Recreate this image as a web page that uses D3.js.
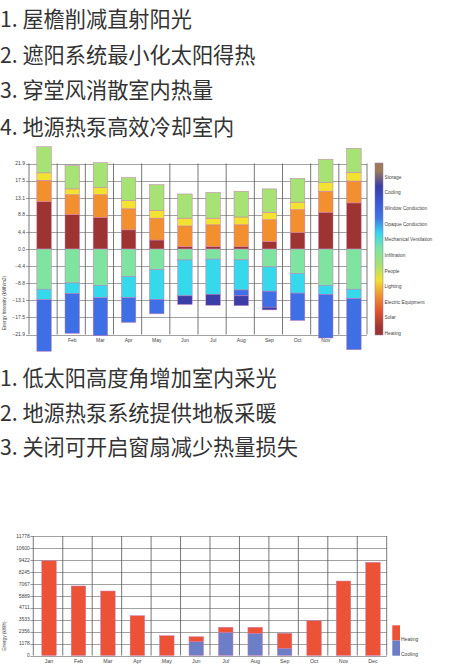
<!DOCTYPE html>
<html><head><meta charset="utf-8">
<script src="https://cdn.jsdelivr.net/npm/d3@7"></script>
<style>
html,body{margin:0;padding:0;background:#fff;}
svg{display:block;}
</style></head>
<body>
<svg id="c" width="461" height="664"></svg>
<script>
// ---------- data ----------
const linesTop = ["1. 屋檐削减直射阳光","2. 遮阳系统最小化太阳得热","3. 穿堂风消散室内热量","4. 地源热泵高效冷却室内"];
const linesMid = ["1. 低太阳高度角增加室内采光","2. 地源热泵系统提供地板采暖","3. 关闭可开启窗扇减少热量损失"];

const months = ["Jan","Feb","Mar","Apr","May","Jun","Jul","Aug","Sep","Oct","Nov","Dec"];
// chart 1: energy intensity (kWh/m2)
const heating   = [12.1, 8.8, 8.1, 4.9, 2.3, 0.6, 0.6, 0.6, 1.9, 4.2, 9.4, 11.8];
const equipment = [5.5, 5.1, 5.8, 5.4, 5.6, 5.3, 5.6, 5.6, 5.6, 5.9, 5.4, 5.6];
const lighting  = [1.9, 1.5, 1.8, 2.1, 2.0, 2.0, 1.7, 2.0, 1.9, 1.9, 2.2, 2.2];
const people    = [6.7, 6.0, 6.4, 5.9, 6.6, 6.2, 6.6, 6.6, 6.0, 6.1, 6.0, 6.2];
const infiltration = [-10.3, -8.7, -9.3, -7.0, -5.3, -2.8, -2.6, -2.8, -4.6, -6.3, -9.3, -10.3];
const mechVent  = [-2.7, -2.7, -3.2, -5.5, -7.6, -9.2, -9.0, -7.7, -6.2, -5.0, -2.3, -2.4];
const opaque    = [-13.2, -10.2, -9.7, -6.3, -3.7, 0, 0, -1.5, -4.1, -7.0, -11.2, -13.1];
const cooling   = [0, 0, 0, 0, 0, -2.2, -2.8, -2.5, -0.7, 0, 0, 0];
const ticks1 = [-21.9, -17.5, -13.1, -8.8, -4.4, 0, 4.4, 8.8, 13.1, 17.5, 21.9];
const legend1 = ["Storage","Cooling","Window Conduction","Opaque Conduction","Mechanical Ventilation","Infiltration","People","Lighting","Electric Equipment","Solar","Heating"];
const legend1Colors = ["#9c7a58","#3a3ea6","#3a58d8","#3e76e6","#36d8ec","#7ee4a0","#a6e274","#f2e232","#f29030","#e2522e","#9e3432"];

// chart 2: energy (kWh)
const heatKWh = [9340, 6850, 6355, 3920, 1950, 490, 495, 590, 1480, 3430, 7340, 9180];
const coolKWh = [0, 0, 0, 0, 0, 1360, 2285, 2190, 710, 0, 0, 0];
const ticks2 = [0, 1178, 2356, 3533, 4711, 5889, 7067, 8245, 9422, 10600, 11778];
const legend2 = ["Heating","Cooling"];
const legend2Colors = ["#ec5236","#6c7ec6"];

// ---------- drawing ----------
const svg = d3.select("#c");
svg.append("rect").attr("width",461).attr("height",664).attr("fill","#fff");
const cjk = "'Noto Sans CJK SC','Noto Sans',sans-serif";
const latin = "'Liberation Sans',Arial,sans-serif";

function textBlock(lines, baselines){
  svg.append("g").selectAll("text").data(lines).join("text")
    .attr("x",0).attr("y",(d,i)=>baselines[i])
    .attr("font-family",cjk).attr("font-size",21.2).attr("fill","#333")
    .text(d=>d);
}
textBlock(linesTop,[26.5,63,98,134.5]);
textBlock(linesMid,[386,421,455]);

const gridColor = "#7a7a7a";

// ---- chart 1 ----
{
  const L=29, R=367, T=163.5, B=334.5;
  const x = d3.scaleBand().domain(months).range([L,R]);
  const y = d3.scaleLinear().domain([-21.9,21.9]).range([B,T]);
  const g = svg.append("g");
  g.selectAll("line.h").data(ticks1).join("line")
    .attr("x1",L-3).attr("x2",R).attr("y1",d=>Math.round(y(d))+0.5).attr("y2",d=>Math.round(y(d))+0.5)
    .attr("stroke",gridColor).attr("stroke-width",0.7);
  const vx = months.map(m=>x(m)).concat([R]);
  g.selectAll("line.v").data(vx).join("line")
    .attr("x1",d=>d).attr("x2",d=>d).attr("y1",T).attr("y2",B)
    .attr("stroke","#555").attr("stroke-width",0.8);
  const fmt = d3.format(".1f");
  g.selectAll("text.t").data(ticks1).join("text")
    .attr("x",L-4).attr("y",d=>y(d)).attr("dy","0.35em").attr("text-anchor","end")
    .attr("font-family",latin).attr("font-size",5).attr("fill","#444").text(d=>fmt(d));
  g.selectAll("text.m").data(months).join("text")
    .attr("x",d=>x(d)+x.bandwidth()/2+1).attr("y",342).attr("text-anchor","middle")
    .attr("font-family",latin).attr("font-size",5).attr("fill","#444").text(d=>d);
  g.append("text").attr("transform","translate(6,303) rotate(-90)").attr("text-anchor","middle")
    .attr("font-family",latin).attr("font-size",4.6).attr("fill","#444").text("Energy Intensity (kWh/m2)");
  const keys = ["heating","equipment","lighting","people","infiltration","mechVent","opaque","cooling"];
  const colors = {heating:"#9e3432",equipment:"#f29030",lighting:"#f2e232",people:"#a6e274",
    infiltration:"#7ee4a0",mechVent:"#36d8ec",opaque:"#3e6fe4",cooling:"#3a3ea6"};
  const series = {heating,equipment,lighting,people,infiltration,mechVent,opaque,cooling};
  const rows = months.map((m,i)=>{const o={month:m}; keys.forEach(k=>o[k]=series[k][i]); return o;});
  const stack = d3.stack().keys(keys).offset(d3.stackOffsetDiverging)(rows);
  const bw = 14.5;
  g.selectAll("g.s").data(stack).join("g").attr("fill",d=>colors[d.key])
    .selectAll("rect").data(d=>d.filter(p=>p[1]!==p[0])).join("rect")
    .attr("x",d=>x(d.data.month)+(x.bandwidth()-bw)/2+1)
    .attr("width",bw)
    .attr("y",d=>y(Math.max(d[0],d[1])))
    .attr("height",d=>Math.abs(y(d[0])-y(d[1])))
    .attr("stroke","#c77bb6").attr("stroke-width",0.5);
  const lx=375, lw=8, lt=163, lb=335;
  const grad = svg.append("defs").append("linearGradient").attr("id","lg1")
    .attr("x1",0).attr("x2",0).attr("y1",0).attr("y2",1);
  legend1Colors.forEach((c,i)=>{
    grad.append("stop").attr("offset",((i+0.5)/legend1Colors.length)).attr("stop-color",c);
  });
  svg.append("rect").attr("x",lx).attr("y",lt).attr("width",lw).attr("height",lb-lt)
    .attr("fill","url(#lg1)").attr("stroke","#8a7aa8").attr("stroke-width",0.5);
  const step=(lb-lt)/legend1.length;
  svg.append("g").selectAll("text").data(legend1).join("text")
    .attr("x",lx+lw+1.5).attr("y",(d,i)=>lt+(i+0.9)*step).attr("dy","0.35em")
    .attr("font-family",latin).attr("font-size",4.8).attr("fill","#444").text(d=>d);
}

// ---- chart 2 ----
{
  const L=33.3, R=386.7, T=536, B=655.5;
  const x = d3.scaleBand().domain(months).range([L,R]);
  const y = d3.scaleLinear().domain([0,11778]).range([B,T]);
  const g = svg.append("g");
  g.selectAll("line.h").data(ticks2).join("line")
    .attr("x1",L-3).attr("x2",R).attr("y1",d=>Math.round(y(d))+0.5).attr("y2",d=>Math.round(y(d))+0.5)
    .attr("stroke",gridColor).attr("stroke-width",0.7);
  const vx = months.map(m=>x(m)).concat([R]);
  g.selectAll("line.v").data(vx).join("line")
    .attr("x1",d=>d).attr("x2",d=>d).attr("y1",T).attr("y2",B)
    .attr("stroke","#555").attr("stroke-width",0.8);
  g.selectAll("text.t").data(ticks2).join("text")
    .attr("x",L-3.5).attr("y",d=>y(d)).attr("dy","0.35em").attr("text-anchor","end")
    .attr("font-family",latin).attr("font-size",5).attr("fill","#444").text(d=>d);
  g.selectAll("text.m").data(months).join("text")
    .attr("x",d=>x(d)+x.bandwidth()/2+1).attr("y",662.6).attr("text-anchor","middle")
    .attr("font-family",latin).attr("font-size",5.3).attr("fill","#444").text(d=>d);
  g.append("text").attr("transform","translate(6,636) rotate(-90)").attr("text-anchor","middle")
    .attr("font-family",latin).attr("font-size",4.8).attr("fill","#444").text("Energy (kWh)");
  const rows = months.map((m,i)=>({month:m, cooling:coolKWh[i], heating:heatKWh[i]}));
  const stack = d3.stack().keys(["cooling","heating"])(rows);
  const col = {heating:legend2Colors[0], cooling:legend2Colors[1]};
  const bw = 14.5;
  g.selectAll("g.s").data(stack).join("g").attr("fill",d=>col[d.key])
    .selectAll("rect").data(d=>d.filter(p=>p[1]!==p[0])).join("rect")
    .attr("x",d=>x(d.data.month)+(x.bandwidth()-bw)/2+1)
    .attr("width",bw)
    .attr("y",d=>y(d[1]))
    .attr("height",d=>y(d[0])-y(d[1]))
    .attr("stroke","#c77bb6").attr("stroke-width",0.5);
  const lx=392.3, lw=7.7, lt=625.3, lb=655.7;
  const h=(lb-lt)/2;
  svg.append("g").selectAll("rect").data(legend2).join("rect")
    .attr("x",lx).attr("y",(d,i)=>lt+i*h).attr("width",lw).attr("height",h)
    .attr("fill",(d,i)=>legend2Colors[i]);
  svg.append("g").selectAll("text").data(legend2).join("text")
    .attr("x",lx+lw+1).attr("y",(d,i)=>lt+(i+0.9)*h).attr("dy","0.35em")
    .attr("font-family",latin).attr("font-size",5).attr("fill","#444").text(d=>d);
}
</script>
</body></html>
